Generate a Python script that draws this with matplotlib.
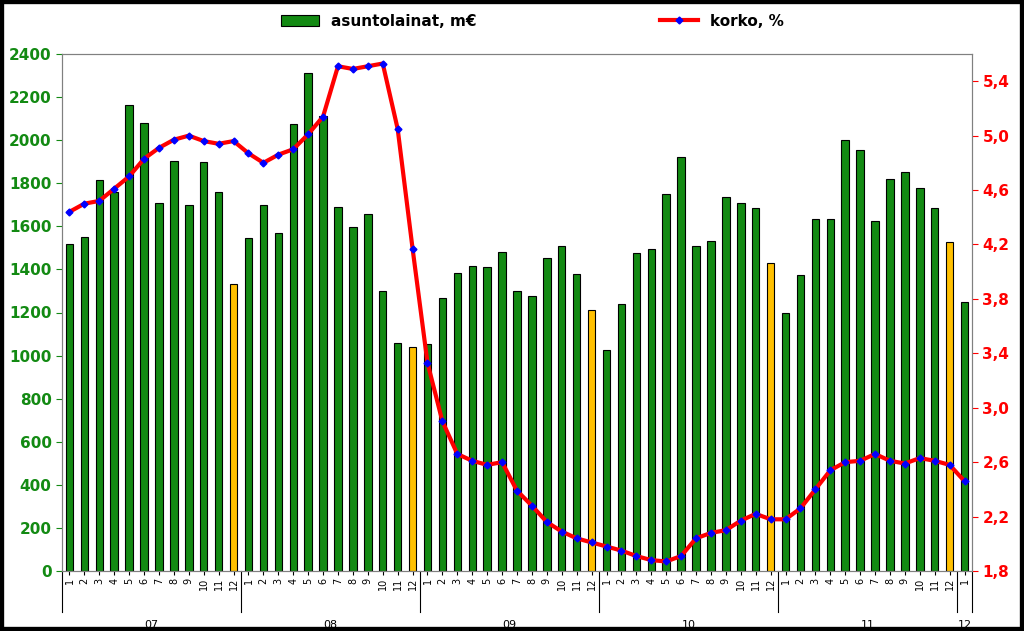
import matplotlib
matplotlib.use("Agg")
import matplotlib.pyplot as plt
import numpy as np

years = ["07", "08", "09", "10", "11", "12"]
months = [str(m) for m in range(1, 13)] * 5 + ["1"]
loans = [1520,1550,1815,1760,2165,2080,1710,1905,1700,1900,1760,1330,
         1545,1700,1570,2075,2310,2110,1690,1595,1655,1300,1060,1040,
         1055,1265,1385,1415,1410,1480,1300,1275,1455,1510,1380,1210,
         1025,1240,1475,1495,1750,1920,1510,1530,1735,1710,1685,1430,
         1200,1375,1635,1635,2000,1955,1625,1820,1850,1780,1685,1525,
         1250]
rate = [4.44,4.50,4.52,4.61,4.70,4.83,4.91,4.97,5.00,4.96,4.94,4.96,
        4.87,4.80,4.86,4.90,5.01,5.14,5.51,5.49,5.51,5.53,5.05,4.17,
        3.33,2.90,2.66,2.61,2.58,2.60,2.39,2.28,2.16,2.09,2.04,2.01,
        1.98,1.95,1.91,1.88,1.87,1.91,2.04,2.08,2.10,2.17,2.22,2.18,
        2.18,2.26,2.40,2.54,2.60,2.61,2.66,2.61,2.59,2.63,2.61,2.58,
        2.46]

fig = plt.figure(figsize=(10.24, 6.31), dpi=100)
fig.patch.set_facecolor("white")
fig.add_artist(plt.Rectangle((0, 0), 1, 1, transform=fig.transFigure, fill=False, ec="black", lw=6))
ax = fig.add_axes([62/1024, 1-571/631, 910/1024, 517/631])
n = len(loans)
x = np.arange(n)
colors = ["#FFC000" if m == "12" else "#138A13" for m in months]
ax.bar(x, loans, width=0.5, color=colors, edgecolor="black", linewidth=0.8, label="asuntolainat, m€")
ax.set_xlim(-0.5, n - 0.5)
ax.set_ylim(0, 2400)
ax.set_yticks(range(0, 2401, 200))
ax.tick_params(axis="y", colors="#138A13", labelsize=11, length=4)
for t in ax.get_yticklabels():
    t.set_fontweight("bold")
ax.set_xticks(x)
ax.set_xticklabels(months, rotation=90, fontsize=7)
ax.tick_params(axis="x", length=3, pad=2)
ax2 = ax.twinx()
ax2.plot(x, rate, color="red", lw=3, marker="D", markersize=3.5, mfc="blue", mec="blue", label="korko, %")
ax2.set_ylim(1.8, 5.6)
ax2.set_yticks(np.arange(1.8, 5.5, 0.4))
ax2.set_yticklabels([f"{v:.1f}".replace(".", ",") for v in np.arange(1.8, 5.5, 0.4)])
ax2.tick_params(axis="y", colors="red", labelsize=11, length=4)
for t in ax2.get_yticklabels():
    t.set_fontweight("bold")
for a in (ax, ax2):
    for s in a.spines.values():
        s.set_color("#808080")
# year labels and separators
for i, yr in enumerate(years):
    start = i * 12 - 0.5
    end = min(start + 12, n - 0.5)
    ax.text((start + end) / 2, -0.095, yr, transform=ax.get_xaxis_transform(), ha="center", va="top", fontsize=8)
for b in [-0.5 + 12 * k for k in range(6)]:
    ax.plot([b, b], [0, -0.08], transform=ax.get_xaxis_transform(), color="black", lw=0.8, clip_on=False)
ax.plot([n - 0.5, n - 0.5], [0, -0.08], transform=ax.get_xaxis_transform(), color="black", lw=0.8, clip_on=False)
h1, l1 = ax.get_legend_handles_labels()
h2, l2 = ax2.get_legend_handles_labels()
fig.legend(h1 + h2, l1 + l2, loc="upper center", bbox_to_anchor=(0.52, 1.0), ncol=2, frameon=False,
           prop={"weight": "bold", "size": 11}, columnspacing=12, handlelength=2.5)
fig.savefig("out.png", dpi=100)
